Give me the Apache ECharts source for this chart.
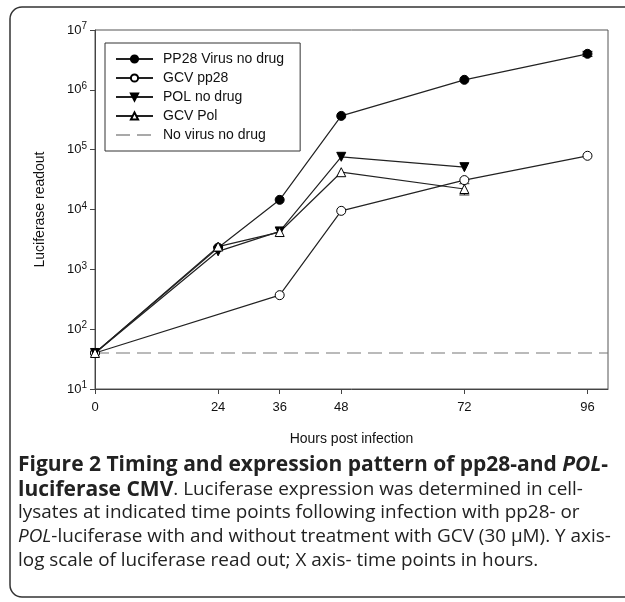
<!DOCTYPE html>
<html><head><meta charset="utf-8">
<script src="https://cdn.jsdelivr.net/npm/echarts@6/dist/echarts.min.js"></script>
<style>html,body{margin:0;padding:0;background:#fff}#c{width:625px;height:602px}</style>
</head><body><div id="c"></div>
<script>
var hours = [0, 24, 36, 48, 72, 96];
var xTicks = [0, 24, 36, 48, 72, 96];
var yTicks = [1e1, 1e2, 1e3, 1e4, 1e5, 1e6, 1e7];
var pp28NoDrug = [[0, 40], [24, 2300], [36, 14500], [48, 367000], [72, 1470000], [96, 4000000]];
var gcvPp28 = [[0, 40], [36, 370], [48, 9500], [72, 31000], [96, 79000]];
var polNoDrug = [[0, 40], [24, 2000], [36, 4300], [48, 76000], [72, 51000]];
var gcvPol = [[0, 40], [24, 2400], [36, 4200], [48, 42000], [72, 22000]];
var noVirus = [[0, 40], [100, 40]];
var errorBars = [[72, 17500, 27000], [96, 3600000, 4400000]];

var chart = echarts.init(document.getElementById('c'));
var font = 'Liberation Sans, Arial, sans-serif';
function lineSeries(name, data, symbol, fill, rotate) {
  return {
    name: name, type: 'line', data: data, symbol: symbol, symbolSize: 9,
    symbolRotate: rotate || 0,
    lineStyle: {color: '#222', width: 1.2},
    itemStyle: {color: fill, borderColor: '#000', borderWidth: 1},
    z: 3
  };
}
var capB = {fontFamily: 'Open Sans', fontWeight: 'bold', fontSize: 21, fill: '#222'};
var capBI = {fontFamily: 'Open Sans', fontWeight: 'bold', fontStyle: 'italic', fontSize: 21, fill: '#222'};
var capN = {fontFamily: 'Open Sans', fontSize: 18.9, fill: '#222'};
var capI = {fontFamily: 'Open Sans', fontStyle: 'italic', fontSize: 18.9, fill: '#222'};
function capLine(y, text) {
  return {type: 'text', x: 18, y: y, style: {text: text, verticalAlign: 'middle',
    rich: {b: capB, bi: capBI, n: capN, i: capI}}};
}
chart.setOption({
  animation: false,
  grid: {left: 95, top: 30, right: 17, bottom: 213, show: true, borderColor: '#555', borderWidth: 1},
  legend: {
    left: 105, top: 43, orient: 'vertical', itemWidth: 37, itemHeight: 9, itemGap: 5,
    padding: [9, 16, 9, 10], borderColor: '#333', borderWidth: 1,
    textStyle: {fontFamily: font, fontSize: 14, color: '#111', padding: [0, 0, 0, 5]},
    data: ['PP28 Virus no drug', 'GCV pp28', 'POL no drug', 'GCV Pol',
      {name: 'No virus no drug',
       itemStyle: {color: 'rgba(0,0,0,0)', borderColor: 'rgba(0,0,0,0)', borderWidth: 0},
       lineStyle: {color: '#555', width: 1.2, type: [14, 7]}}]
  },
  xAxis: {
    type: 'value', min: 0, max: 100,
    name: 'Hours post infection', nameLocation: 'middle', nameGap: 43,
    nameTextStyle: {fontFamily: font, fontSize: 14, color: '#111'},
    axisLine: {lineStyle: {color: '#444'}},
    axisTick: {show: true, length: 5, lineStyle: {color: '#444'}, customValues: xTicks},
    axisLabel: {customValues: xTicks, fontFamily: font, fontSize: 13, color: '#111', margin: 12},
    splitLine: {show: false}
  },
  yAxis: {
    type: 'log', logBase: 10, min: 10, max: 1e7,
    name: 'Luciferase readout', nameLocation: 'middle', nameGap: 48,
    nameTextStyle: {fontFamily: font, fontSize: 14, color: '#111'},
    axisLine: {show: true, lineStyle: {color: '#444'}},
    axisTick: {show: true, length: 5, lineStyle: {color: '#444'}},
    axisLabel: {
      fontFamily: font, fontSize: 13, color: '#111', margin: 8,
      formatter: function (v) { return '10{s|' + Math.round(Math.log10(v)) + '}'; },
      rich: {s: {fontSize: 10, verticalAlign: 'top', padding: [0, 0, 7, 0], fontFamily: font, color: '#111'}}
    },
    splitLine: {show: false}
  },
  series: [
    lineSeries('PP28 Virus no drug', pp28NoDrug, 'circle', '#000'),
    lineSeries('GCV pp28', gcvPp28, 'circle', '#fff'),
    lineSeries('POL no drug', polNoDrug, 'triangle', '#000', 180),
    lineSeries('GCV Pol', gcvPol, 'triangle', '#fff'),
    {
      name: 'No virus no drug', type: 'line', data: noVirus, symbol: 'none',
      lineStyle: {color: '#777', width: 1.2, type: [14, 7]}, itemStyle: {color: '#777'}, z: 1
    },
    {
      type: 'custom', data: errorBars, z: 2,
      renderItem: function (params, api) {
        var x = api.coord([api.value(0), api.value(1)]);
        var y2 = api.coord([api.value(0), api.value(2)]);
        var s = {stroke: '#222', lineWidth: 1};
        return {type: 'group', children: [
          {type: 'line', shape: {x1: x[0], y1: x[1], x2: y2[0], y2: y2[1]}, style: s},
          {type: 'line', shape: {x1: x[0] - 5, y1: x[1], x2: x[0] + 5, y2: x[1]}, style: s},
          {type: 'line', shape: {x1: y2[0] - 5, y1: y2[1], x2: y2[0] + 5, y2: y2[1]}, style: s}
        ]};
      }
    }
  ],
  graphic: [
    {type: 'rect', shape: {x: 10, y: 7, width: 650, height: 590, r: 12}, style: {fill: 'none', stroke: '#333', lineWidth: 1.5}, silent: true},
    capLine(465, '{b|Figure 2 Timing and expression pattern of pp28-and }{bi|POL}{b|-}'),
    capLine(490, '{b|luciferase CMV}{n|. Luciferase expression was determined in cell-}'),
    capLine(513, '{n|lysates at indicated time points following infection with pp28- or}'),
    capLine(537, '{i|POL}{n|-luciferase with and without treatment with GCV (30 \u00b5M). Y axis-}'),
    capLine(561, '{n|log scale of luciferase read out; X axis- time points in hours.}')
  ]
});
</script></body></html>
